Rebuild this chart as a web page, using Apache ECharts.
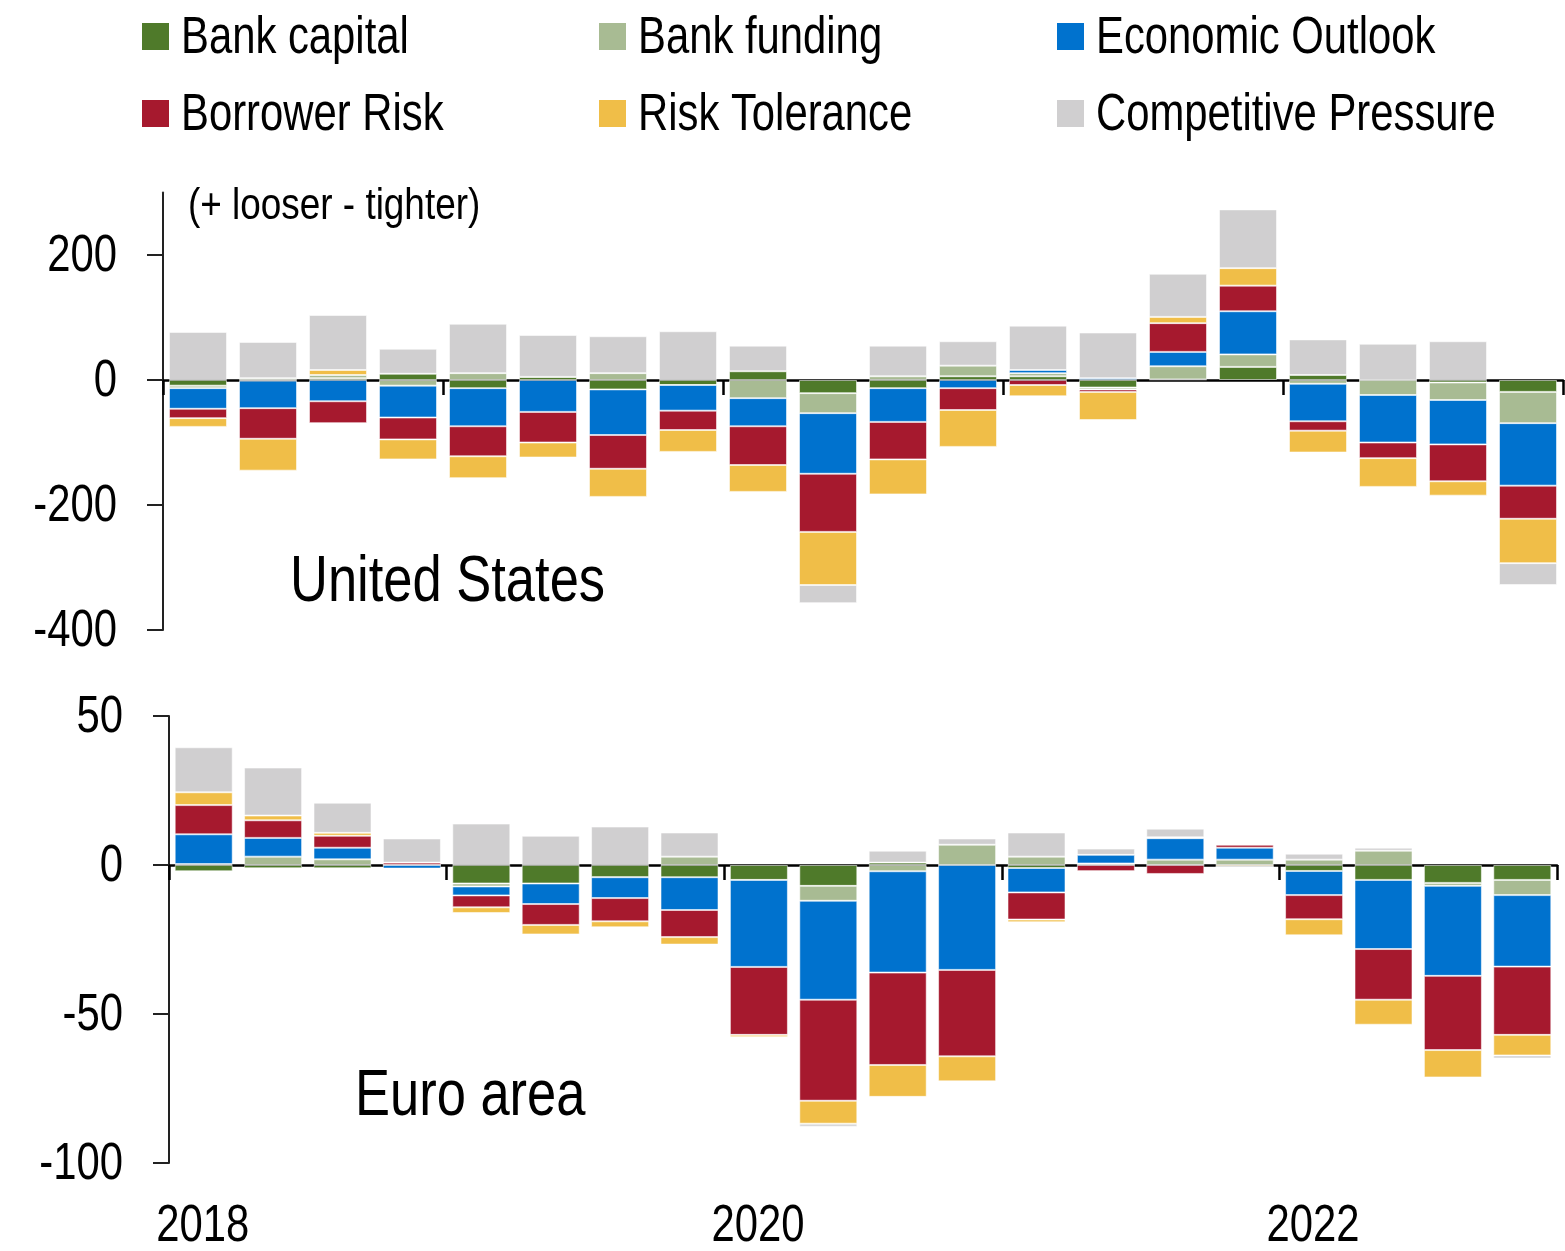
<!DOCTYPE html>
<html>
<head>
<meta charset="utf-8">
<title>Lending standards: drivers</title>
<script src="https://cdn.jsdelivr.net/npm/echarts@6/dist/echarts.min.js"></script>
<style>
  html, body { margin: 0; padding: 0; background: #fff; }
  #chart { width: 1565px; height: 1251px; }
</style>
</head>
<body>
<div id="chart"></div>
<script>
// Quarters 2018Q1 .. 2022Q4
const quarters = [
  '2018Q1','2018Q2','2018Q3','2018Q4','2019Q1','2019Q2','2019Q3','2019Q4',
  '2020Q1','2020Q2','2020Q3','2020Q4','2021Q1','2021Q2','2021Q3','2021Q4',
  '2022Q1','2022Q2','2022Q3','2022Q4'
];
const yearLabels = { '2018Q1': '2018', '2020Q1': '2020', '2022Q1': '2022' };

const seriesNames = ['Bank capital', 'Bank funding', 'Economic Outlook',
  'Borrower Risk', 'Risk Tolerance', 'Competitive Pressure'];

// United States (+ looser / - tighter)
const usBankCapital   = [-9, -1, 3, 10, -13, 5, -15, -8, 14, -21, -13, 6, 6, -12, 1, 21, 8, 0, -4, -19];
const usBankFunding   = [-4, 3, 5, -9, 11, 0, 11, 0, -29, -32, 6, 17, 5, -3, 21, 20, -6, -24, -28, -50];
const usEconOutlook   = [-33, -44, -34, -51, -61, -51, -73, -41, -45, -97, -54, -13, 5, 3, 23, 69, -60, -76, -71, -100];
const usBorrowerRisk  = [-15, -49, -35, -35, -48, -49, -54, -31, -62, -93, -60, -35, -8, -4, 46, 41, -15, -25, -59, -53];
const usRiskTolerance = [-14, -51, 8, -32, -35, -24, -45, -35, -43, -85, -56, -59, -18, -45, 10, 28, -35, -46, -23, -71];
const usCompetitive   = [77, 58, 88, 40, 79, 67, 59, 78, 41, -29, 49, 39, 71, 73, 69, 94, 57, 58, 62, -35];

// Euro area
const eaBankCapital   = [-2.1, -1.1, -1.1, 0, -6.2, -6.2, -4.1, -4.1, -5.0, -7.0, 0.8, 0, -1.0, 0, 0, 0, -2.0, -5.0, -6.0, -5.0];
const eaBankFunding   = [0.3, 2.8, 1.9, 0, -1.0, 0, 0, 2.8, 0, -5.0, -2.1, 6.8, 2.8, 0.5, 1.8, 1.8, 1.8, 4.8, -1.0, -5.1];
const eaEconOutlook   = [10.0, 6.3, 3.9, -1.2, -3.0, -6.9, -7.0, -11.0, -29.2, -33.2, -34.0, -35.2, -8.2, 2.9, 7.2, 4.0, -8.1, -23.2, -30.2, -24.0];
const eaBorrowerRisk  = [9.8, 5.9, 4.0, 0.8, -4.0, -7.0, -7.8, -9.1, -22.8, -33.9, -31.0, -29.0, -9.1, -2.1, -3.0, 1.0, -8.1, -17.0, -24.9, -22.9];
const eaRiskTolerance = [4.3, 1.6, 1.0, 0, -1.9, -3.2, -2.0, -2.5, -0.8, -7.7, -10.7, -8.4, -0.9, 0, 0.3, -0.5, -5.4, -8.4, -9.2, -6.9];
const eaCompetitive   = [15.1, 16.1, 10.1, 8.1, 13.9, 9.8, 12.9, 8.1, 0, -1.0, 4.0, 2.1, 8.1, 2.1, 2.9, 0, 2.0, 1.0, 0, -1.0];

// Axis ticks
const usTicks = [-400, -200, 0, 200];
const eaTicks = [-100, -50, 0, 50];

const colors = ['#4F7A2A', '#A8BB93', '#0072CE', '#A6192E', '#F0BE48', '#D0CFD0'];
// Arial-metric face, drawn horizontally condensed
const FONT = "'Liberation Sans', Arial, sans-serif";
const NARROW = 0.82;

const usData = [usBankCapital, usBankFunding, usEconOutlook, usBorrowerRisk, usRiskTolerance, usCompetitive];
const eaData = [eaBankCapital, eaBankFunding, eaEconOutlook, eaBorrowerRisk, eaRiskTolerance, eaCompetitive];

function barSeries(name, data, xIdx, yIdx, stack, color) {
  return {
    name: name,
    type: 'bar',
    stack: stack,
    xAxisIndex: xIdx,
    yAxisIndex: yIdx,
    barWidth: 58,
    data: data,
    itemStyle: { color: color, borderColor: 'rgba(255,255,255,0.55)', borderWidth: 1 },
    emphasis: { disabled: true }
  };
}

const series = [];
seriesNames.forEach((n, i) => series.push(barSeries(n, usData[i], 0, 0, 'us', colors[i])));
seriesNames.forEach((n, i) => series.push(barSeries(n, eaData[i], 1, 1, 'ea', colors[i])));

function zeroXAxis(gridIndex) {
  return {
    type: 'category',
    gridIndex: gridIndex,
    data: quarters,
    boundaryGap: true,
    axisLine: { onZero: true, lineStyle: { color: '#000', width: 2.5 } },
    axisTick: { show: true, interval: 3, length: 15, lineStyle: { color: '#000', width: 2.5 } },
    axisLabel: { show: false, showMaxLabel: false, showMinLabel: false },
    splitLine: { show: false }
  };
}

function valueYAxis(gridIndex, min, max, interval, ticks) {
  return {
    type: 'value',
    gridIndex: gridIndex,
    min: min, max: max, interval: interval,
    axisLine: { show: true, lineStyle: { color: '#222', width: 2 } },
    axisTick: { show: true, length: 16, lineStyle: { color: '#222', width: 2 }, customValues: ticks },
    axisLabel: { show: false },
    splitLine: { show: false }
  };
}

const option = {
  animation: false,
  backgroundColor: '#fff',
  color: colors,
  grid: [
    { left: 163, right: 2, top: 192.5, height: 437.5, containLabel: false },
    { left: 169, right: 8, top: 716, height: 447, containLabel: false }
  ],
  xAxis: [zeroXAxis(0), zeroXAxis(1)],
  yAxis: [
    valueYAxis(0, -400, 300, 200, usTicks),
    valueYAxis(1, -100, 50, 50, eaTicks)
  ],
  series: series
};

const chart = echarts.init(document.getElementById('chart'), null, { renderer: 'canvas' });
chart.setOption(option);

// Condensed text helper
function narrowText(text, x, y, size, align) {
  return {
    type: 'text', x: x, y: y, scaleX: NARROW, silent: true,
    style: { text: text, fontSize: size, fontFamily: FONT, fill: '#000',
             align: align || 'left', verticalAlign: 'middle' }
  };
}

const graphics = [];

// Legend: three columns of two entries
const legendCols = [
  { x: 142, names: ['Bank capital', 'Borrower Risk'] },
  { x: 599, names: ['Bank funding', 'Risk Tolerance'] },
  { x: 1057, names: ['Economic Outlook', 'Competitive Pressure'] }
];
const legendRows = [36.5, 113.5];
legendCols.forEach(col => {
  col.names.forEach((name, r) => {
    const ci = seriesNames.indexOf(name);
    graphics.push({ type: 'rect', silent: true,
      shape: { x: col.x, y: legendRows[r] - 13.5, width: 27, height: 27 },
      style: { fill: colors[ci] } });
    graphics.push(narrowText(name, col.x + 39, legendRows[r] + 2, 51));
  });
});

// Y tick labels from the axis scales
usTicks.forEach(v => {
  const py = chart.convertToPixel({ yAxisIndex: 0 }, v);
  graphics.push(narrowText(String(v), 117, py + 2, 51, 'right'));
});
eaTicks.forEach(v => {
  const py = chart.convertToPixel({ yAxisIndex: 1 }, v);
  graphics.push(narrowText(String(v), 123, py + 2, 51, 'right'));
});

// Year labels under the lower panel
quarters.forEach(q => {
  if (!yearLabels[q]) return;
  const px = chart.convertToPixel({ xAxisIndex: 1 }, q);
  graphics.push(narrowText(yearLabels[q], px - 1, 1227, 51, 'center'));
});

// Panel annotations
graphics.push(narrowText('(+ looser - tighter)', 188, 207, 45));
graphics.push(narrowText('United States', 290, 583, 64));
graphics.push(narrowText('Euro area', 355, 1097, 64));

chart.setOption({ graphic: graphics });
</script>
</body>
</html>
